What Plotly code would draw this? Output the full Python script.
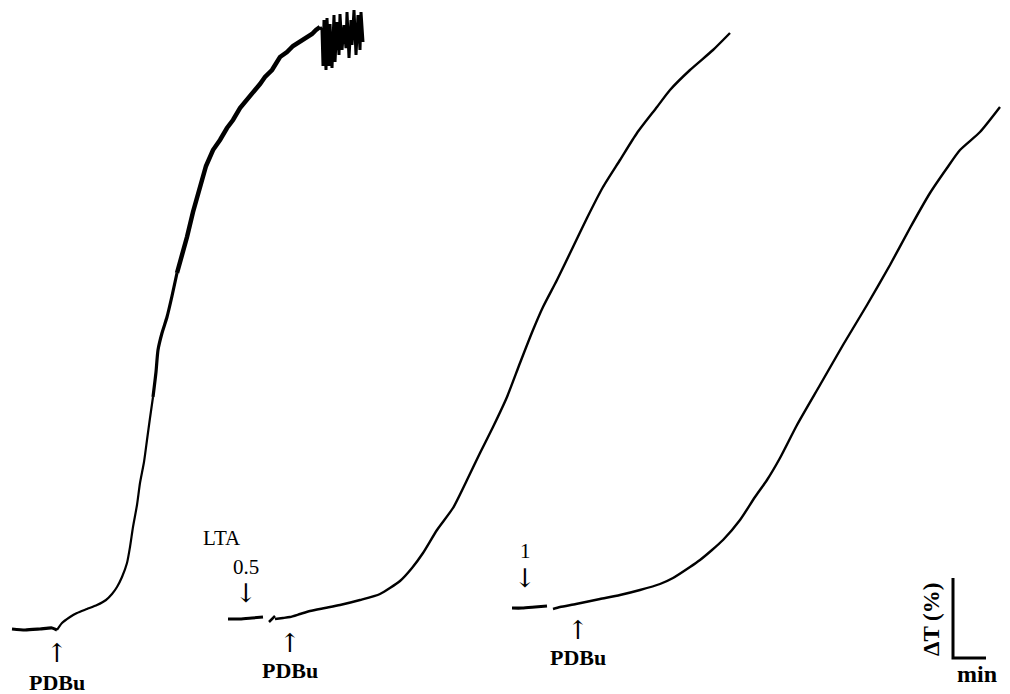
import plotly.graph_objects as go

# ---- data (time units, ΔT units; y grows downward on the plot) ----
# Trace 1 (control, PDBu only)
t1_base = [12, 25, 40, 52, 57]
y1_base = [629, 630, 629, 628, 630]
t1_rise = [57, 62, 70, 77, 87, 97, 106, 112, 117, 122, 127, 130, 133, 137, 140, 144, 147, 150, 153]
y1_rise = [630, 623, 617, 613, 609, 605, 600, 594, 587, 577, 563, 547, 527, 505, 483, 462, 440, 418, 397]
t1_mid = [153, 156, 158, 162, 167, 172, 177]
y1_mid = [397, 372, 350, 333, 317, 296, 273]
t1_top = [177, 182, 187, 193, 200, 206, 213, 220, 227, 233, 240, 247, 253, 260, 265, 272, 280, 287, 293, 300, 306, 312, 316, 320]
y1_top = [273, 256, 237, 212, 187, 166, 150, 140, 128, 120, 108, 100, 92, 84, 77, 70, 57, 52, 46, 42, 38, 34, 30, 27]
t1_noise = [320, 322, 323, 324, 326, 327, 329, 330, 332, 334, 335, 337, 339, 340, 342, 344, 346, 347, 349, 351, 352, 354, 356, 358, 360, 361, 363]
y1_noise = [27, 30, 66, 20, 70, 18, 66, 24, 68, 15, 62, 22, 55, 14, 50, 25, 48, 12, 58, 20, 45, 10, 55, 15, 50, 12, 42]

# Trace 2 (LTA 0.5 then PDBu)
t2_pre = [228, 240, 252, 263]
y2_pre = [619, 619, 618, 617]
t2_slash = [269, 275]
y2_slash = [622, 616]
t2 = [275, 283, 290, 300, 310, 325, 340, 360, 380, 400, 412, 423, 437, 453, 467, 480, 493, 507, 520, 533, 543, 557, 573, 587, 603, 620, 637, 657, 670, 690, 713, 730]
y2 = [619, 618, 617, 614, 611, 608, 605, 600, 594, 581, 568, 553, 530, 508, 480, 453, 427, 397, 363, 330, 307, 280, 247, 218, 187, 160, 133, 107, 90, 70, 50, 33]

# Trace 3 (LTA 1 then PDBu)
t3_pre = [512, 522, 535, 547]
y3_pre = [608, 608, 607, 606]
t3 = [553, 560, 576, 600, 620, 640, 660, 673, 690, 700, 712, 723, 740, 755, 767, 780, 797, 820, 843, 867, 890, 910, 930, 947, 960, 980, 1000]
y3 = [609, 607, 604, 599, 595, 590, 584, 578, 567, 560, 550, 540, 520, 497, 480, 458, 425, 385, 345, 305, 265, 228, 193, 168, 150, 132, 107]

# Scale bar (ΔT % vertical, min horizontal)
scale_t = [953, 953, 986]
scale_y = [578, 658, 658]

# Labels
pdbu_t = [57, 290, 578]
pdbu_arrow_y = [653, 643, 630]
pdbu_label_y = [682, 670, 657]
lta_dose_t = [246, 525]
lta_dose = ["0.5", "1"]
lta_dose_y = [567, 551]
lta_arrow_y = [593, 578]

fig = go.Figure()
black = "black"

def add_line(x, y, w, smooth=True):
    fig.add_trace(go.Scatter(
        x=x, y=y, mode="lines",
        line=dict(color=black, width=w, shape="spline" if smooth else "linear", smoothing=0.6),
        hoverinfo="skip", showlegend=False))

add_line(t1_base, y1_base, 3.2)
add_line(t1_rise, y1_rise, 2.2)
add_line(t1_mid, y1_mid, 3.2)
add_line(t1_top, y1_top, 4.5, smooth=False)
add_line(t1_noise, y1_noise, 3.0, smooth=False)
add_line(t2_pre, y2_pre, 3.0)
add_line(t2_slash, y2_slash, 2.5, smooth=False)
add_line(t2, y2, 2.4)
add_line(t3_pre, y3_pre, 3.2)
add_line(t3, y3, 2.4)
add_line(scale_t, scale_y, 3.0, smooth=False)

serif = "Liberation Serif"
ann = []
for t, ay, ly in zip(pdbu_t, pdbu_arrow_y, pdbu_label_y):
    ann.append(dict(x=t, y=ay, text="↑", showarrow=False, xref="x", yref="y",
                    font=dict(family="DejaVu Serif", size=26, color=black)))
    ann.append(dict(x=t, y=ly, text="<b>PDBu</b>", showarrow=False, xref="x", yref="y",
                    font=dict(family=serif, size=22, color=black)))
for t, d, dy, ay in zip(lta_dose_t, lta_dose, lta_dose_y, lta_arrow_y):
    ann.append(dict(x=t, y=dy, text=d, showarrow=False, xref="x", yref="y",
                    font=dict(family=serif, size=21, color=black)))
    ann.append(dict(x=t, y=ay, text="↓", showarrow=False, xref="x", yref="y",
                    font=dict(family="DejaVu Serif", size=26, color=black)))
ann.append(dict(x=222, y=538, text="LTA", showarrow=False, xref="x", yref="y",
                font=dict(family=serif, size=21, color=black)))
ann.append(dict(x=931, y=620, text="<b>ΔT (%)</b>", showarrow=False, xref="x", yref="y",
                textangle=-90, font=dict(family=serif, size=23, color=black)))
ann.append(dict(x=977, y=674, text="<b>min</b>", showarrow=False, xref="x", yref="y",
                font=dict(family=serif, size=24, color=black)))

fig.update_layout(
    width=1010, height=694,
    margin=dict(l=0, r=0, t=0, b=0),
    paper_bgcolor="white", plot_bgcolor="white",
    xaxis=dict(range=[0, 1010], visible=False, fixedrange=True),
    yaxis=dict(range=[694, 0], visible=False, fixedrange=True),
    annotations=ann,
    showlegend=False,
)

fig.write_html("out.html", config={"displayModeBar": False},
               post_script="document.body.style.margin='0';document.body.style.overflow='hidden';")
